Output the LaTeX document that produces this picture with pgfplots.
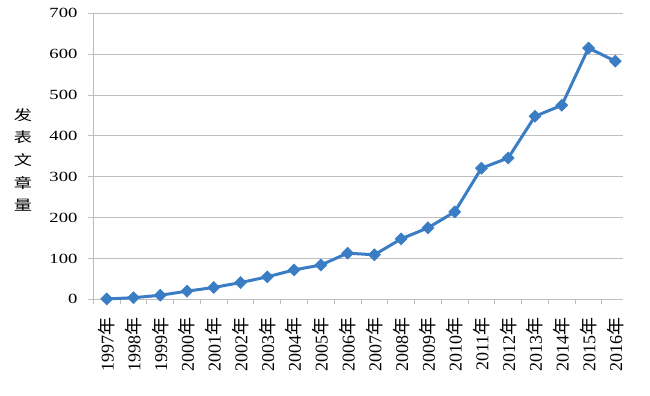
\documentclass[border=0pt]{standalone}
\usepackage{pgfplots}
\pgfplotsset{compat=1.18}
\usepackage{fontspec}
\usepackage{graphicx}
\setmainfont{Liberation Serif}
\newfontfamily\cjk{Noto Sans CJK SC}
\definecolor{lineblue}{RGB}{58,125,196}
\definecolor{gridgray}{RGB}{190,190,190}
\newcommand\nian{{\cjk 年}}
\begin{document}
\begin{tikzpicture}
\path[use as bounding box] (-70pt,-72.5pt) rectangle (417.5pt,224.5pt);
\begin{axis}[
  at={(0,0)}, anchor=south west,
  scale only axis, width=397.1pt, height=214.5pt,
  xmin=-0.5, xmax=19.28, ymin=0, ymax=700,
  axis x line*=bottom, axis y line*=left,
  axis line style={gridgray, line width=0.75pt, -},
  ytick={0,100,...,700},
  ymajorgrids,
  grid style={gridgray, line width=0.75pt},
  tick style={gridgray, line width=0.75pt},
  major tick length=3.75pt,
  tick align=outside,
  xtick={-0.5,0.5,...,18.5},
  xticklabels={1997\nian,1998\nian,1999\nian,2000\nian,2001\nian,2002\nian,2003\nian,2004\nian,2005\nian,2006\nian,2007\nian,2008\nian,2009\nian,2010\nian,2011\nian,2012\nian,2013\nian,2014\nian,2015\nian,2016\nian},
  xticklabel style={rotate=90, anchor=east, inner sep=0pt, xshift=-9.5pt, yshift=-10.04pt, font=\fontsize{13.5pt}{14pt}\selectfont, text=black},
  yticklabel={\scalebox{1.33}[1]{\pgfmathprintnumber{\tick}}},
  yticklabel style={anchor=east, inner sep=0pt, xshift=-8pt, font=\fontsize{10.5pt}{12pt}\selectfont, text=black},
  /pgf/number format/assume math mode=true,
  ylabel={\scalebox{1.3}[1]{\cjk 发}\\\scalebox{1.3}[1]{\cjk 表}\\\scalebox{1.3}[1]{\cjk 文}\\\scalebox{1.3}[1]{\cjk 章}\\\scalebox{1.3}[1]{\cjk 量}},
  ylabel style={rotate=-90, align=center, font=\fontsize{10.5pt}{17pt}\selectfont, at={(axis description cs:-0.133,0.487)}, anchor=center},
  clip=false,
]
\addplot[lineblue, line width=2.25pt, mark=square*, mark size=3.2pt,
  mark options={solid, rotate=45, fill=lineblue, draw=lineblue, line width=0.4pt}]
coordinates {
(0,1) (1,4) (2,10) (3,20) (4,29) (5,41) (6,55) (7,72) (8,84) (9,113)
(10,109) (11,148) (12,175) (13,214) (14,321) (15,346) (16,448) (17,475) (18,615) (19,583)
};
\end{axis}
\end{tikzpicture}
\end{document}
